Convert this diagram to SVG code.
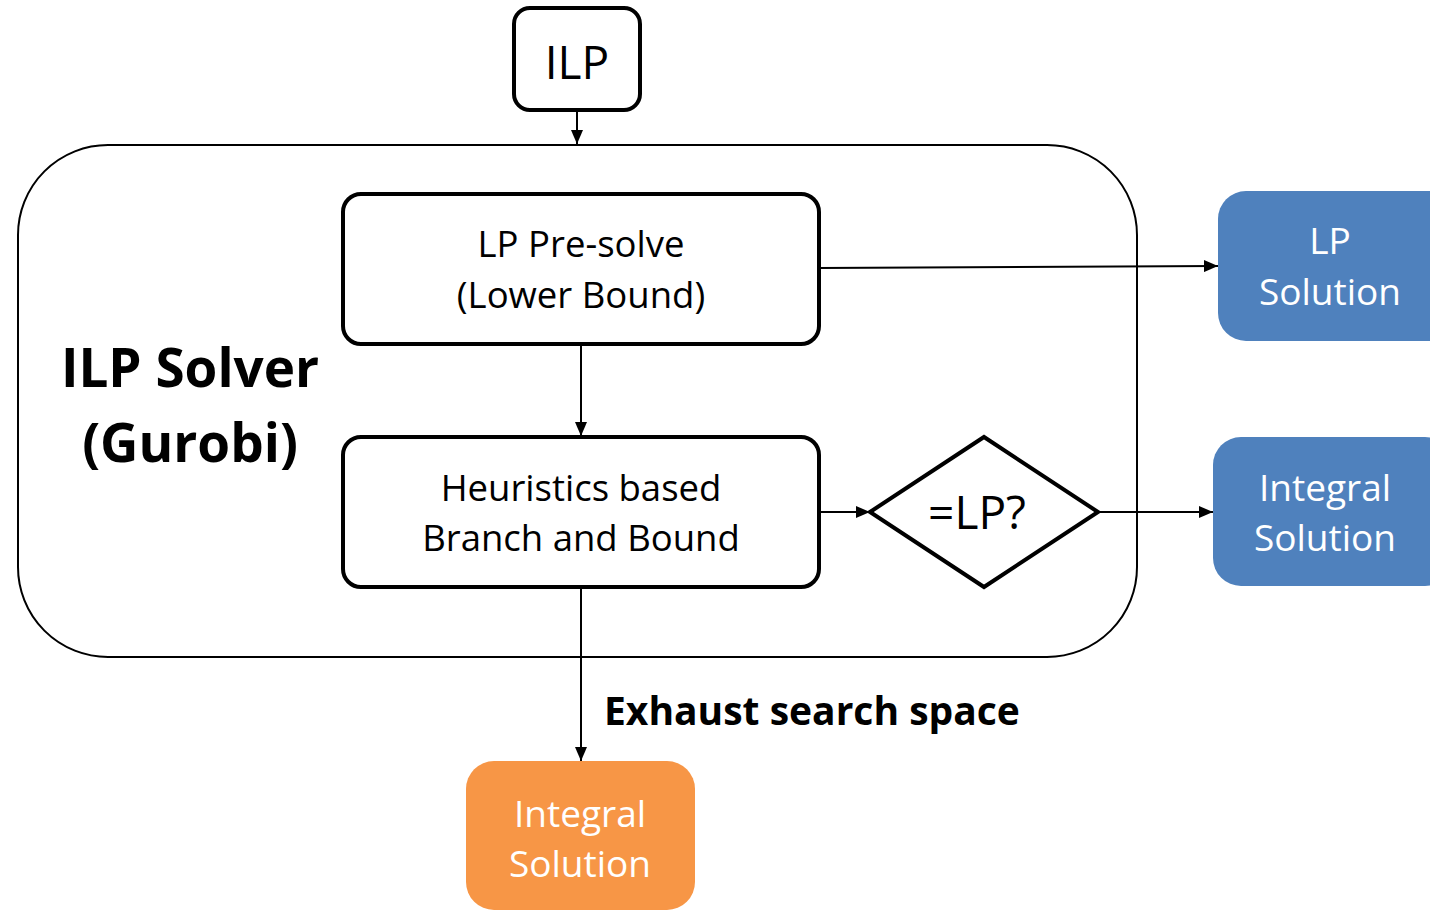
<svg xmlns="http://www.w3.org/2000/svg" width="1430" height="911" viewBox="0 0 1430 911">
  <style>
    text { font-family: "Open Sans", "Liberation Sans", sans-serif; text-anchor: middle; }
    .box { fill: #ffffff; stroke: #000000; stroke-width: 4; }
    .frame { fill: #ffffff; stroke: #000000; stroke-width: 2; }
    .blue { fill: #4f81bd; }
    .orange { fill: #f79646; }
    .lbl { font-size: 36.5px; fill: #000000; }
    .wlbl { font-size: 37px; fill: #ffffff; }
    .bold { font-weight: bold; fill: #000000; }
    .conn { stroke: #000000; stroke-width: 2; fill: none; marker-end: url(#arrow); }
  </style>
  <defs>
    <marker id="arrow" viewBox="0 0 14 12" refX="14" refY="6" markerWidth="14" markerHeight="12" markerUnits="userSpaceOnUse" orient="auto">
      <path d="M0,0 L14,6 L0,12 z" fill="#000000"/>
    </marker>
  </defs>
  <rect width="1430" height="911" fill="#ffffff"/>

  <!-- solver frame -->
  <g id="solver">
    <rect class="frame" x="18" y="145" width="1119" height="512" rx="90" ry="90"/>
    <text class="bold" x="190" y="387" font-size="53">ILP Solver</text>
    <text class="bold" x="190" y="462" font-size="53">(Gurobi)</text>
  </g>

  <g id="ilp">
    <rect class="box" x="514" y="8" width="126" height="102" rx="16"/>
    <text x="577" y="79" font-size="46">ILP</text>
  </g>

  <g id="presolve">
    <rect class="box" x="343" y="194" width="476" height="150" rx="18"/>
    <text class="lbl" x="581" y="257">LP Pre-solve</text>
    <text class="lbl" x="581" y="308">(Lower Bound)</text>
  </g>

  <g id="branch">
    <rect class="box" x="343" y="437" width="476" height="150" rx="18"/>
    <text class="lbl" x="581" y="501">Heuristics based</text>
    <text class="lbl" x="581" y="551">Branch and Bound</text>
  </g>

  <g id="check">
    <polygon class="box" points="870,512 984,437 1098,512 984,587"/>
    <text x="977" y="529" font-size="46">=LP?</text>
  </g>

  <g id="lp-solution">
    <rect class="blue" x="1218" y="191" width="240" height="150" rx="28"/>
    <text class="wlbl" x="1330" y="254">LP</text>
    <text class="wlbl" x="1330" y="305">Solution</text>
  </g>

  <g id="integral-solution">
    <rect class="blue" x="1213" y="437" width="240" height="149" rx="28"/>
    <text class="wlbl" x="1325" y="501">Integral</text>
    <text class="wlbl" x="1325" y="551">Solution</text>
  </g>

  <g id="final-solution">
    <rect class="orange" x="466" y="761" width="229" height="149" rx="28"/>
    <text class="wlbl" x="580" y="827">Integral</text>
    <text class="wlbl" x="580" y="877">Solution</text>
  </g>

  <text class="bold" x="604" y="725" font-size="39" style="text-anchor:start">Exhaust search space</text>

  <g id="connectors">
    <line class="conn" x1="577" y1="110" x2="577" y2="144"/>
    <line class="conn" x1="819" y1="268" x2="1218" y2="266"/>
    <line class="conn" x1="581" y1="346" x2="581" y2="436"/>
    <line class="conn" x1="819" y1="512" x2="870" y2="512"/>
    <line class="conn" x1="1098" y1="512" x2="1213" y2="512"/>
    <line class="conn" x1="581" y1="589" x2="581" y2="761"/>
  </g>
</svg>
